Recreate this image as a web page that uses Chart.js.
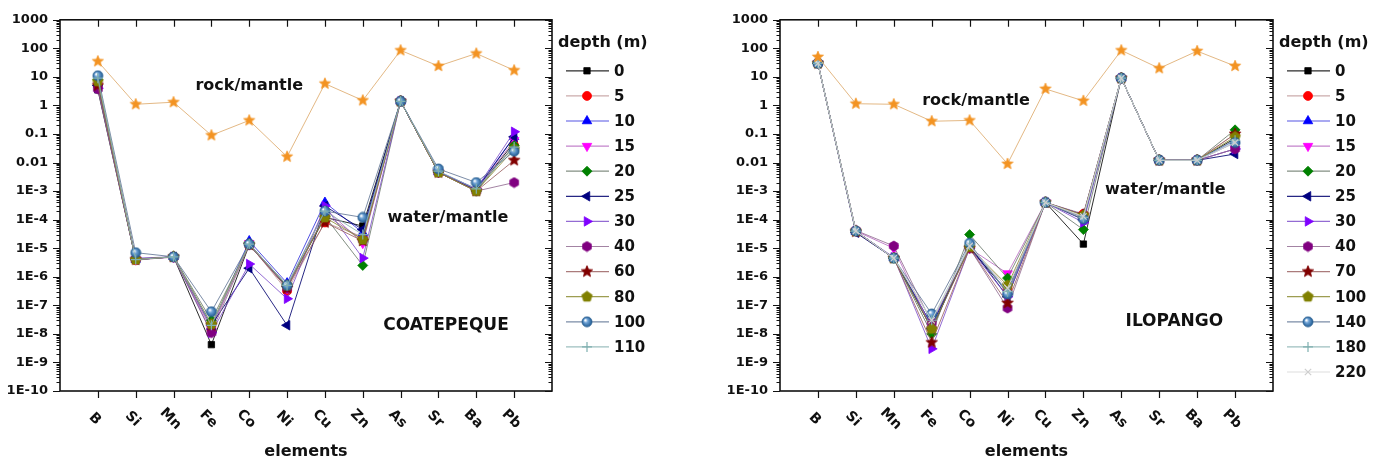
<!DOCTYPE html>
<html>
<head>
<meta charset="utf-8">
<script src="https://cdn.jsdelivr.net/npm/chart.js@4.4.1/dist/chart.umd.min.js"></script>
<style>
  html, body { margin: 0; padding: 0; background: #fff; }
  #wrap { position: relative; width: 1385px; height: 464px; overflow: hidden; }
  .box { position: absolute; top: 0; height: 464px; }
</style>
</head>
<body>
<div id="wrap">
  <div class="box" style="left:0;width:692px"><canvas id="chartCoatepeque" width="692" height="464"></canvas></div>
  <div class="box" style="left:720px;width:665px"><canvas id="chartIlopango" width="665" height="464"></canvas></div>
</div>
<script>
// categories and axis labels
const elements = ['B', 'Si', 'Mn', 'Fe', 'Co', 'Ni', 'Cu', 'Zn', 'As', 'Sr', 'Ba', 'Pb'];
const yTickValues = [1000, 100, 10, 1, 0.1, 0.01, 1e-3, 1e-4, 1e-5, 1e-6, 1e-7, 1e-8, 1e-9, 1e-10];
const yTickLabels = ['1000', '100', '10', '1', '0.1', '0.01', '1E-3', '1E-4', '1E-5', '1E-6', '1E-7', '1E-8', '1E-9', '1E-10'];

// COATEPEQUE
const coatepequeDepths = ['0', '5', '10', '15', '20', '25', '30', '40', '60', '80', '100', '110'];
const coatepequeRock = [35, 1.1, 1.3, 0.09, 0.3, 0.016, 5.8, 1.5, 85, 24, 66, 17];
const coatepeque0   = [3.5, 4e-6, 5e-6, 4.2e-9, 1.3e-5, 4.5e-7, 1.2e-4, 6e-5, 1.4, 4.5e-3, 1.1e-3, 0.05];
const coatepeque5   = [5, 3.8e-6, 5e-6, 1.5e-8, 1.4e-5, 3.2e-7, 8e-5, 2.5e-5, 1.4, 4.5e-3, 1.1e-3, 0.04];
const coatepeque10  = [6, 4e-6, 5e-6, 1.8e-8, 1.8e-5, 6e-7, 4e-4, 3.5e-5, 1.4, 4.8e-3, 1.2e-3, 0.08];
const coatepeque15  = [5, 4e-6, 4.8e-6, 1.5e-8, 1.5e-5, 4e-7, 2.5e-4, 1.5e-5, 1.4, 4.5e-3, 1.1e-3, 0.06];
const coatepeque20  = [8, 4.2e-6, 5e-6, 3e-8, 1.3e-5, 4.5e-7, 1.3e-4, 2.5e-6, 1.4, 4.5e-3, 1e-3, 0.04];
const coatepeque25  = [5, 4e-6, 5e-6, 2e-8, 2e-6, 2e-8, 3e-4, 4.5e-5, 1.4, 4.6e-3, 1.1e-3, 0.08];
const coatepeque30  = [4, 4.5e-6, 5e-6, 1.1e-8, 2.8e-6, 1.7e-7, 3e-4, 4.5e-6, 1.4, 4.6e-3, 1.2e-3, 0.12];
const coatepeque40  = [3.8, 4.2e-6, 5e-6, 1.1e-8, 1.3e-5, 4e-7, 1.5e-4, 2e-5, 1.4, 4.5e-3, 1e-3, 2e-3];
const coatepeque60  = [5, 4e-6, 5e-6, 2e-8, 1.3e-5, 4e-7, 8e-5, 1.8e-5, 1.4, 4.5e-3, 1e-3, 0.012];
const coatepeque80  = [7, 4e-6, 5e-6, 2.2e-8, 1.4e-5, 5e-7, 1.2e-4, 2e-5, 1.4, 4.5e-3, 1e-3, 0.03];
const coatepeque100 = [11, 7e-6, 5e-6, 6e-8, 1.4e-5, 5e-7, 2e-4, 1.2e-4, 1.4, 6e-3, 2e-3, 0.025];
const coatepeque110 = [9, 4e-6, 5e-6, 2e-8, 1.4e-5, 5e-7, 2e-4, 3e-5, 1.4, 5e-3, 1.2e-3, 0.035];

// ILOPANGO
const ilopangoDepths = ['0', '5', '10', '15', '20', '25', '30', '40', '70', '100', '140', '180', '220'];
const ilopangoRock = [50, 1.15, 1.1, 0.28, 0.3, 0.009, 3.8, 1.45, 85, 20, 80, 24];
const ilopango0   = [30, 4e-5, 4.5e-6, 2e-8, 1e-5, 3e-7, 4e-4, 1.4e-5, 9, 0.012, 0.012, 0.07];
const ilopango5   = [30, 4e-5, 4.5e-6, 1.5e-8, 1.1e-5, 4e-7, 4e-4, 1.6e-4, 9, 0.012, 0.012, 0.1];
const ilopango10  = [30, 3.8e-5, 4.5e-6, 2e-8, 1.2e-5, 3e-7, 4e-4, 1.5e-4, 9, 0.012, 0.012, 0.06];
const ilopango15  = [30, 4e-5, 1e-5, 1.5e-8, 1e-5, 1.3e-6, 4e-4, 1.2e-4, 9, 0.012, 0.012, 0.03];
const ilopango20  = [30, 4e-5, 4.5e-6, 1e-8, 3e-5, 9e-7, 4e-4, 4.5e-5, 9, 0.012, 0.012, 0.14];
const ilopango25  = [30, 3.5e-5, 4.5e-6, 1.5e-8, 1.2e-5, 2e-7, 4e-4, 1e-4, 9, 0.012, 0.012, 0.02];
const ilopango30  = [30, 4e-5, 4.8e-6, 3e-9, 1e-5, 2e-7, 4e-4, 8e-5, 9, 0.012, 0.012, 0.03];
const ilopango40  = [30, 4.2e-5, 1.2e-5, 2.5e-8, 1e-5, 8e-8, 4e-4, 1.2e-4, 9, 0.012, 0.012, 0.03];
const ilopango70  = [30, 3.8e-5, 4.5e-6, 5e-9, 1e-5, 1.2e-7, 4e-4, 1.5e-4, 9, 0.012, 0.012, 0.1];
const ilopango100 = [30, 4e-5, 4.5e-6, 1.5e-8, 1.1e-5, 5e-7, 4e-4, 1.4e-4, 9, 0.012, 0.012, 0.08];
const ilopango140 = [30, 4e-5, 4.5e-6, 5e-8, 1.5e-5, 2.5e-7, 4e-4, 1.05e-4, 9, 0.012, 0.012, 0.05];
const ilopango180 = [30, 4e-5, 4.5e-6, 3e-8, 1.3e-5, 3e-7, 4e-4, 1.2e-4, 9, 0.012, 0.012, 0.06];
const ilopango220 = [30, 4e-5, 4.5e-6, 3e-8, 1.2e-5, 4e-7, 4e-4, 1.3e-4, 9, 0.012, 0.012, 0.05];

Chart.defaults.font.family = '"DejaVu Sans", sans-serif';
Chart.defaults.font.weight = 'bold';
Chart.defaults.color = '#111';

// custom marker images
function marker(shape, fill, r) {
  const c = document.createElement('canvas');
  const s = Math.ceil(r * 2 + 2);
  c.width = c.height = s;
  const g = c.getContext('2d');
  const m = s / 2;
  g.beginPath();
  if (shape === 'star') {
    for (let i = 0; i < 10; i++) {
      const rr = i % 2 ? r * 0.45 : r;
      const a = -Math.PI / 2 + i * Math.PI / 5;
      g.lineTo(m + rr * Math.cos(a), m + rr * Math.sin(a));
    }
  } else if (shape === 'pentagon' || shape === 'hexagon') {
    const n = shape === 'pentagon' ? 5 : 6;
    for (let i = 0; i < n; i++) {
      const a = -Math.PI / 2 + i * 2 * Math.PI / n;
      g.lineTo(m + r * Math.cos(a), m + r * Math.sin(a));
    }
  } else {
    g.arc(m, m, r, 0, Math.PI * 2);
  }
  g.closePath();
  if (shape === 'sphere') {
    const grad = g.createRadialGradient(m - r * 0.35, m - r * 0.35, 0.5, m, m, r);
    grad.addColorStop(0, '#ffffff');
    grad.addColorStop(0.35, '#6fa3d6');
    grad.addColorStop(1, '#1f5a92');
    g.fillStyle = grad;
  } else {
    g.fillStyle = fill;
  }
  g.fill();
  g.lineWidth = 0.8;
  g.strokeStyle = shape === 'sphere' ? '#2a5f90' : fill;
  g.stroke();
  return c;
}

const depthStyles = [
  { point: 'rect', color: '#000000', line: 'rgba(20,20,20,0.9)', r: 4.5 },
  { point: 'circle', color: '#ff0000', line: 'rgba(190,150,150,0.8)', r: 4.5 },
  { point: 'triangle', color: '#0000ff', line: 'rgba(40,40,220,0.8)', r: 5.5 },
  { point: 'triangle', rot: 180, color: '#ff00ff', line: 'rgba(180,100,190,0.8)', r: 5.5 },
  { point: 'rectRot', color: '#008000', line: 'rgba(100,115,100,0.8)', r: 5 },
  { point: 'triangle', rot: -90, color: '#000080', line: 'rgba(0,0,110,0.85)', r: 5.5 },
  { point: 'triangle', rot: 90, color: '#8000ff', line: 'rgba(120,70,200,0.8)', r: 5.5 },
  { point: marker('hexagon', '#800080', 5), color: '#800080', line: 'rgba(140,100,140,0.8)', r: 5 },
  { point: marker('star', '#800000', 6), color: '#800000', line: 'rgba(150,90,90,0.8)', r: 6 },
  { point: marker('pentagon', '#808000', 5.5), color: '#808000', line: 'rgba(140,140,50,0.85)', r: 5.5 },
  { point: marker('sphere', '#3c78b4', 5), color: '#3c78b4', line: 'rgba(100,120,150,0.85)', r: 5 },
  { point: 'cross', color: '#7fb0b0', line: 'rgba(140,180,180,0.85)', r: 5 },
  { point: 'crossRot', color: '#cfcfcf', line: 'rgba(215,215,215,0.85)', r: 4.5 },
];
const rockStar = marker('star', '#f39322', 5.8);

function toPoints(values) {
  return values.map((v, i) => ({ x: i + 1, y: v }));
}

function buildDatasets(depths, series, rock) {
  const sets = series.map((values, i) => {
    const st = depthStyles[i];
    return {
      label: depths[i],
      data: toPoints(values),
      borderColor: st.line,
      borderWidth: 1,
      pointStyle: st.point,
      pointRotation: st.rot || 0,
      pointRadius: st.r,
      pointBackgroundColor: st.color,
      pointBorderColor: st.color,
      pointBorderWidth: st.point === 'cross' || st.point === 'crossRot' ? 1.2 : 0.8,
      order: -i,
      inLegend: true,
    };
  });
  sets.push({
    label: 'rock/mantle',
    data: toPoints(rock),
    borderColor: 'rgba(225,180,125,0.95)',
    borderWidth: 1,
    pointStyle: rockStar,
    pointRadius: 5.8,
    order: -100,
    inLegend: false,
  });
  return sets;
}

const axesFrame = {
  id: 'axesFrame',
  afterDraw(chart, args, opts) {
    const { ctx, chartArea: { left, right, top, bottom }, scales: { x, y } } = chart;
    ctx.save();
    ctx.strokeStyle = '#111';
    ctx.lineWidth = 1.6;
    ctx.strokeRect(left, top, right - left, bottom - top);
    ctx.lineWidth = 1.2;
    ctx.beginPath();
    for (let e = -10; e <= 3; e++) {
      for (let k = 1; k <= 9; k++) {
        const v = k * Math.pow(10, e);
        if (v > 1000 * 1.0001) break;
        const py = Math.round(y.getPixelForValue(v)) + 0.5;
        const len = k === 1 ? 7 : 3.5;
        ctx.moveTo(left, py); ctx.lineTo(left - len, py);
        ctx.moveTo(right, py); ctx.lineTo(right - len, py);
      }
    }
    elements.forEach((el, i) => {
      const px = Math.round(x.getPixelForValue(i + 1)) + 0.5;
      ctx.moveTo(px, bottom); ctx.lineTo(px, bottom + 7);
      ctx.moveTo(px, top); ctx.lineTo(px, top + 7);
    });
    ctx.stroke();

    // rotated category labels
    ctx.fillStyle = '#111';
    ctx.font = 'bold 14px "DejaVu Sans"';
    ctx.textAlign = 'center';
    ctx.textBaseline = 'middle';
    elements.forEach((el, i) => {
      const px = x.getPixelForValue(i + 1);
      ctx.save();
      ctx.translate(px - 3, bottom + 28);
      ctx.rotate(Math.PI / 4);
      ctx.fillText(el, 0, 0);
      ctx.restore();
    });

    // annotations
    opts.notes.forEach(n => {
      ctx.font = 'bold ' + n.size + 'px "DejaVu Sans"';
      ctx.fillText(n.text, x.getPixelForValue(n.x), y.getPixelForValue(n.y));
    });

    // legend
    const lx = right + 6;
    ctx.textAlign = 'left';
    ctx.font = 'bold 16px "DejaVu Sans"';
    ctx.fillText('depth (m)', lx, top + 23);
    let row = 0;
    chart.data.datasets.forEach(ds => {
      if (!ds.inLegend) return;
      const ly = top + 51 + row * 25.1;
      ctx.strokeStyle = ds.borderColor;
      ctx.lineWidth = 1.2;
      ctx.beginPath();
      ctx.moveTo(right + 14, ly); ctx.lineTo(right + 57, ly);
      ctx.stroke();
      ctx.fillStyle = ds.pointBackgroundColor;
      ctx.strokeStyle = ds.pointBorderColor;
      ctx.lineWidth = ds.pointBorderWidth;
      Chart.helpers.drawPoint(ctx, {
        pointStyle: ds.pointStyle, rotation: ds.pointRotation,
        radius: ds.pointRadius, borderWidth: ds.pointBorderWidth
      }, right + 35, ly);
      ctx.fillStyle = '#111';
      ctx.font = 'bold 15px "DejaVu Sans"';
      ctx.fillText(ds.label, right + 62, ly + 1);
      row++;
    });
    ctx.restore();
  }
};

function makeChart(canvasId, datasets, padRight, notes) {
  return new Chart(document.getElementById(canvasId), {
    type: 'line',
    data: { datasets },
    plugins: [axesFrame],
    options: {
      responsive: false,
      animation: false,
      events: [],
      layout: { padding: { top: 15, right: padRight, left: 0, bottom: 0 } },
      plugins: {
        legend: { display: false },
        tooltip: { enabled: false },
        axesFrame: { notes },
      },
      scales: {
        x: {
          type: 'linear', min: 0, max: 13,
          grid: { display: false, drawTicks: false },
          border: { display: false },
          afterBuildTicks: s => { s.ticks = elements.map((e, i) => ({ value: i + 1 })); },
          afterFit: s => { s.height = 73; },
          ticks: { display: false },
          title: { display: true, text: 'elements', font: { size: 16, weight: 'bold' }, color: '#111', padding: { top: 0, bottom: 3 } },
        },
        y: {
          type: 'logarithmic', min: 1e-10, max: 1000,
          grid: { display: false, drawTicks: false },
          border: { display: false },
          afterBuildTicks: s => { s.ticks = yTickValues.slice().reverse().map(v => ({ value: v, major: true })); },
          afterFit: s => { s.width = 60; },
          ticks: {
            autoSkip: false, padding: 12, color: '#111',
            font: { size: 13, weight: 'bold' },
            callback: v => {
              const i = yTickValues.findIndex(t => Math.abs(Math.log10(t) - Math.log10(v)) < 1e-6);
              return i >= 0 ? yTickLabels[i] : '';
            },
          },
        },
      },
    },
  });
}

const chartCoatepeque = makeChart('chartCoatepeque',
  buildDatasets(coatepequeDepths,
    [coatepeque0, coatepeque5, coatepeque10, coatepeque15, coatepeque20, coatepeque25,
     coatepeque30, coatepeque40, coatepeque60, coatepeque80, coatepeque100, coatepeque110],
    coatepequeRock),
  140,
  [
    { text: 'rock/mantle', x: 5, y: 4.8, size: 16 },
    { text: 'water/mantle', x: 10.25, y: 1.2e-4, size: 16 },
    { text: 'COATEPEQUE', x: 10.2, y: 1.9e-8, size: 17 },
  ]);

const chartIlopango = makeChart('chartIlopango',
  buildDatasets(ilopangoDepths,
    [ilopango0, ilopango5, ilopango10, ilopango15, ilopango20, ilopango25, ilopango30,
     ilopango40, ilopango70, ilopango100, ilopango140, ilopango180, ilopango220],
    ilopangoRock),
  112,
  [
    { text: 'rock/mantle', x: 5.17, y: 1.46, size: 16 },
    { text: 'water/mantle', x: 10.16, y: 1.1e-3, size: 16 },
    { text: 'ILOPANGO', x: 10.4, y: 2.8e-8, size: 17 },
  ]);
</script>
</body>
</html>
